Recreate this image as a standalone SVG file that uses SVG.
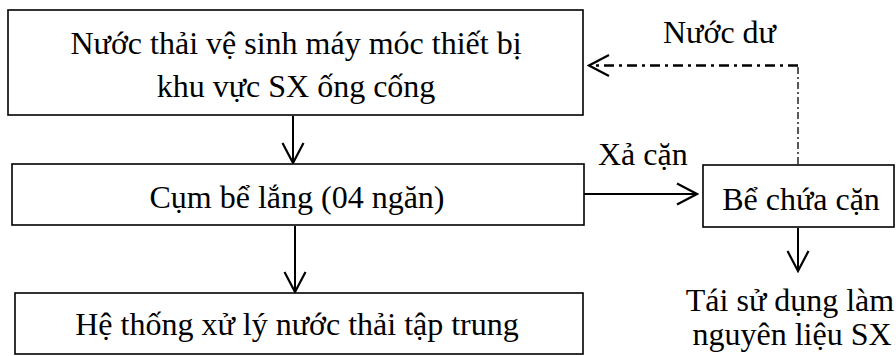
<svg xmlns="http://www.w3.org/2000/svg" width="896" height="356" viewBox="0 0 896 356">
  <defs>
    <style>
      .box { fill: #ffffff; stroke: #000000; stroke-width: 1.6; }
      .lbl { font-family: 'Liberation Serif', 'Times New Roman', serif; font-size: 32px; fill: #000000; }
      .mid { text-anchor: middle; }
      .flow { fill: none; stroke: #000000; stroke-width: 2; }
      .dash-h { fill: none; stroke: #000000; stroke-width: 2.4; stroke-dasharray: 10 5 3 5; }
      .dash-v { fill: none; stroke: #000000; stroke-width: 1.3; stroke-dasharray: 7 3 2 3; }
    </style>
    <marker id="vhead" viewBox="0 0 24 24" refX="22" refY="12" markerWidth="24" markerHeight="24" markerUnits="userSpaceOnUse" orient="auto">
      <path d="M2 1.5 L22 12 L2 22.5" fill="none" stroke="#000000" stroke-width="2.2"/>
    </marker>
  </defs>

  <rect width="896" height="356" fill="#ffffff"/>

  <!-- connectors -->
  <g id="connectors">
    <line class="flow" x1="293" y1="116" x2="293" y2="163" marker-end="url(#vhead)"/>
    <line class="flow" x1="295" y1="226" x2="295" y2="292" marker-end="url(#vhead)"/>
    <line class="flow" x1="584" y1="194" x2="697" y2="194" marker-end="url(#vhead)"/>
    <line class="flow" x1="798" y1="228" x2="798" y2="271" marker-end="url(#vhead)"/>
    <path class="dash-v" d="M798 164 V66"/>
    <path class="dash-h" d="M798 65.5 H589" marker-end="url(#vhead)"/>
    <text class="lbl" x="598" y="165">Xả cặn</text>
    <text class="lbl" x="663" y="43">Nước dư</text>
  </g>

  <g id="node-source">
    <rect class="box" x="8" y="10" width="575" height="105"/>
    <text class="lbl mid" x="296" y="54">Nước thải vệ sinh máy móc thiết bị</text>
    <text class="lbl mid" x="296" y="97">khu vực SX ống cống</text>
  </g>

  <g id="node-settling">
    <rect class="box" x="12" y="164" width="572" height="61"/>
    <text class="lbl mid" x="297" y="208">Cụm bể lắng (04 ngăn)</text>
  </g>

  <g id="node-treatment">
    <rect class="box" x="15" y="293" width="568" height="61"/>
    <text class="lbl mid" x="297" y="335">Hệ thống xử lý nước thải tập trung</text>
  </g>

  <g id="node-sludge">
    <rect class="box" x="703" y="165" width="191" height="62"/>
    <text class="lbl mid" x="801" y="210">Bể chứa cặn</text>
  </g>

  <g id="node-reuse">
    <text class="lbl mid" x="790" y="311">Tái sử dụng làm</text>
    <text class="lbl mid" x="792" y="345">nguyên liệu SX</text>
  </g>
</svg>
